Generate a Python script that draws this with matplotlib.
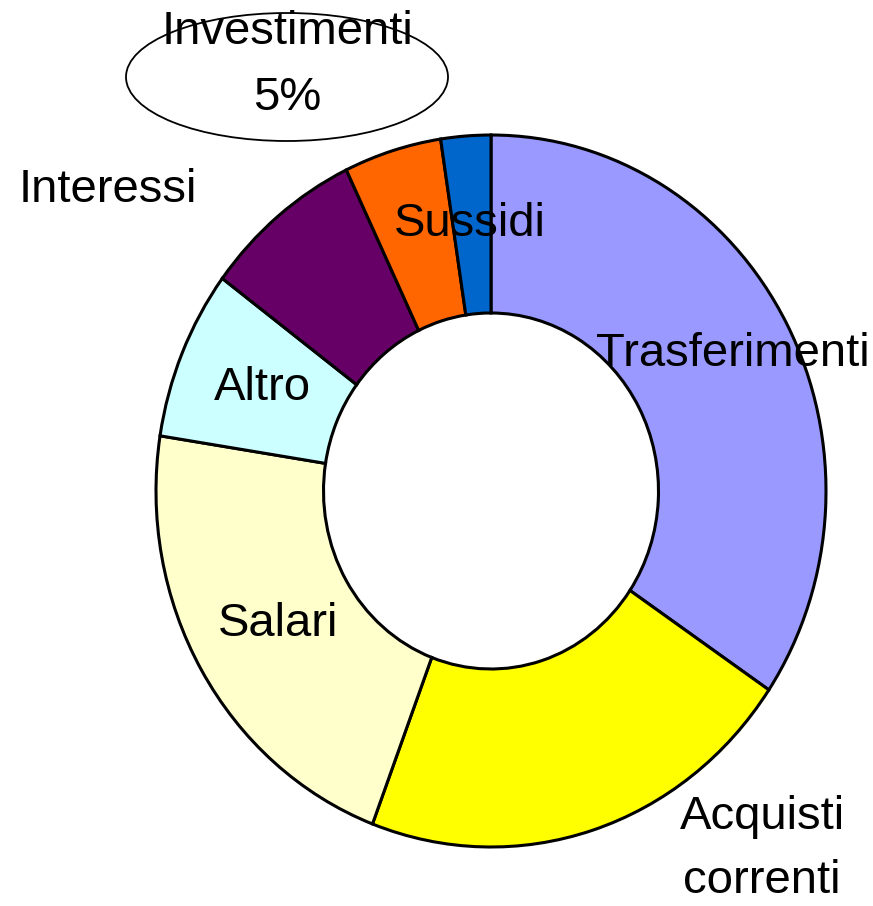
import matplotlib.pyplot as plt
from matplotlib.patches import Ellipse

labels = ['Trasferimenti', 'Acquisti\ncorrenti', 'Salari', 'Altro', 'Interessi', 'Sussidi', 'Investimenti']
values = [34.4, 21.3, 21.7, 7.7, 7.7, 4.7, 2.4]
colors = ['#9999FF', '#FFFF00', '#FFFFCC', '#CCFFFF', '#660066', '#FF6600', '#0066CC']

# label positions in pixels (x from left, y from top)
label_pos = {
    'Trasferimenti': (733, 354),
    'Acquisti\ncorrenti': (762, 849),
    'Salari': (278, 624),
    'Altro': (262, 388),
    'Interessi': (108, 190),
    'Sussidi': (470, 224),
}

plt.rcParams['font.family'] = ['Liberation Sans', 'DejaVu Sans']

W, H = 873, 906
cx, cy = 491, 491
rx, ry = 335, 356

fig = plt.figure(figsize=(W / 100, H / 100), dpi=100)
ax = fig.add_axes([0, 0, 1, 1])

ax.pie(values, colors=colors, startangle=90, counterclock=False,
       radius=1, wedgeprops=dict(width=0.5, edgecolor='black', linewidth=2.2))
ax.set_aspect('auto')
ax.set_xlim(-cx / rx, (W - cx) / rx)
ax.set_ylim(-(H - cy) / ry, cy / ry)
ax.axis('off')


def px(x, y):
    return (x - cx) / rx, (cy - y) / ry


for name, (x, y) in label_pos.items():
    tx, ty = px(x, y)
    ax.text(tx, ty, name, fontsize=34, ha='center', va='center', linespacing=1.58)

# callout for Investimenti
ex, ey = px(287, 77)
ax.add_patch(Ellipse((ex, ey), 322 / rx, 128 / ry, facecolor='none',
                     edgecolor='black', linewidth=1.3, zorder=3))
tx, ty = px(287, 65)
ax.text(tx, ty, 'Investimenti\n5%', fontsize=34, ha='center', va='center',
        linespacing=1.66, zorder=4)

fig.savefig('out.png', dpi=100)
